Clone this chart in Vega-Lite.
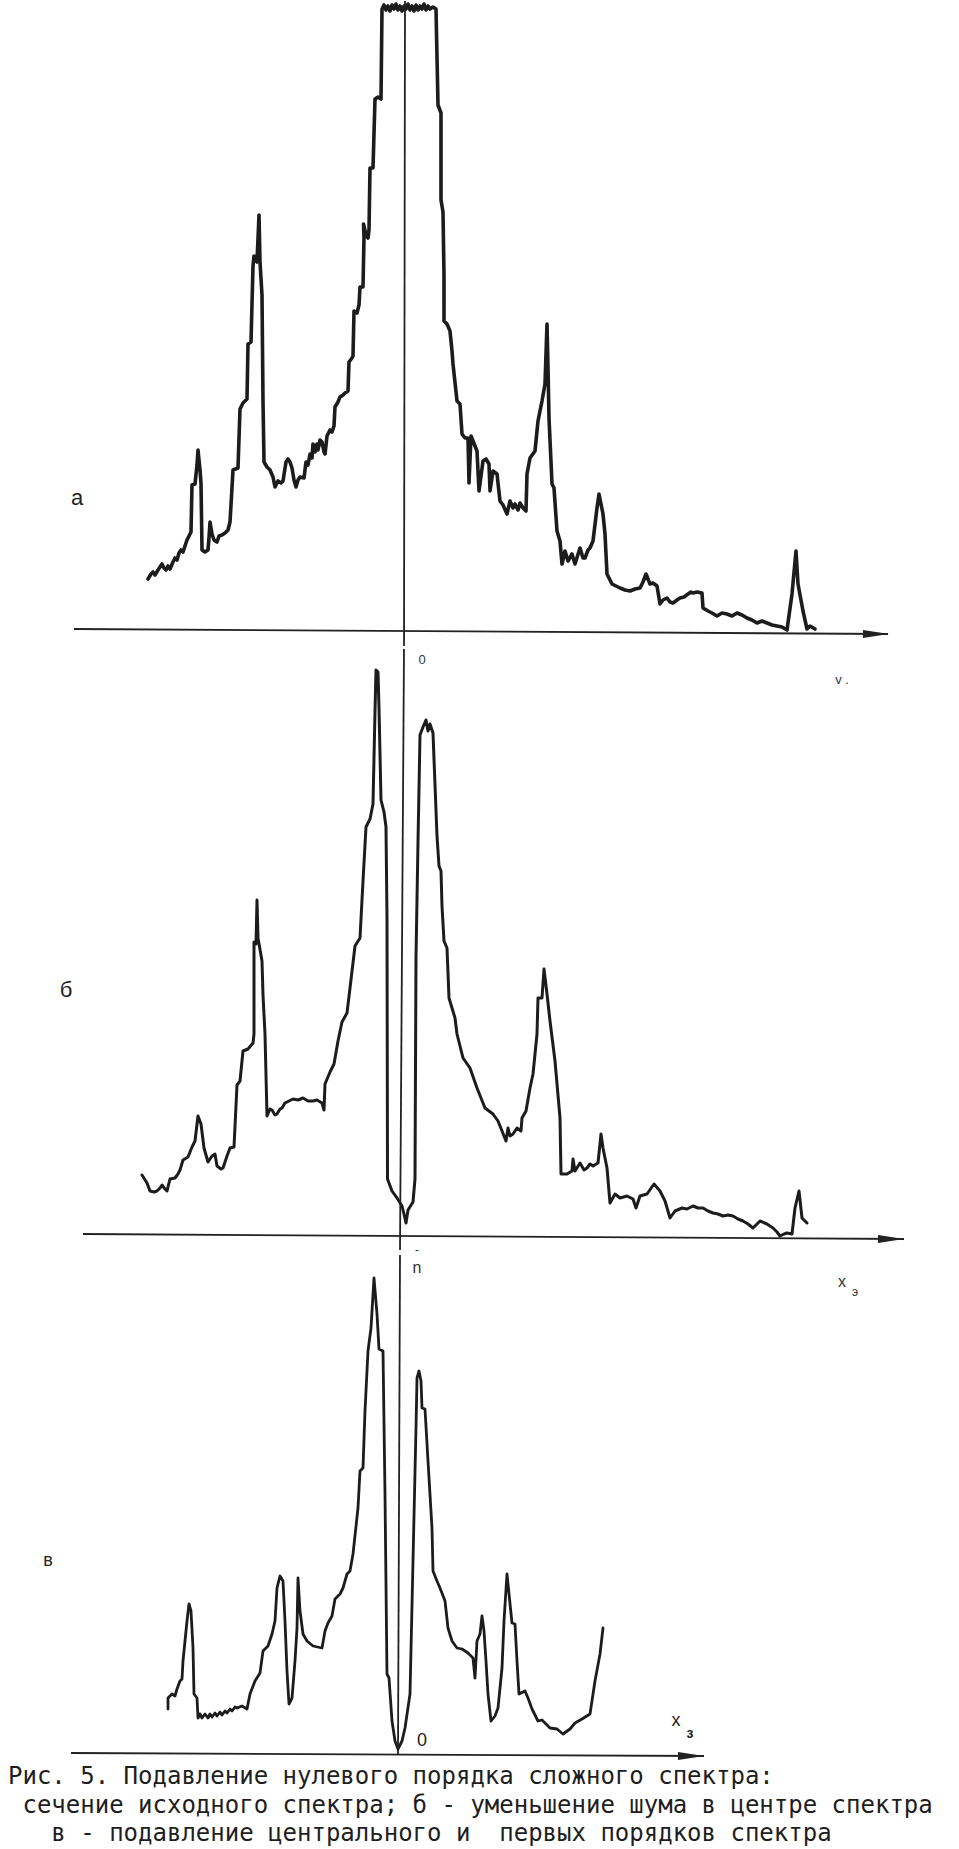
{
  "$schema": "https://vega.github.io/schema/vega-lite/v6.json",
  "background": "white",
  "padding": 0,
  "spacing": 0,
  "bounds": "flush",
  "config": {"view": {"stroke": null}},
  "title": {
    "text": ["Рис. 5. Подавление нулевого порядка сложного спектра:", "\u200b\u00a0сечение исходного спектра; б - уменьшение шума в центре спектра", "\u200b\u00a0\u00a0\u00a0в - подавление центрального и\u00a0 первых порядков спектра"],
    "orient": "bottom", "anchor": "start", "frame": "group",
    "font": "DejaVu Sans Mono", "fontSize": 24, "fontWeight": "normal", "color": "#1e1e1e",
    "lineHeight": 28.5, "offset": 4, "dx": 8
  },
  "vconcat": [
    {
      "width": 959, "height": 645,
      "encoding": {
        "x": {"field": "x", "type": "quantitative", "scale": {"domain": [-405, 554], "nice": false, "zero": false}, "axis": null},
        "y": {"field": "y", "type": "quantitative", "scale": {"domain": [-16, 629], "nice": false, "zero": false}, "axis": null}
      },
      "layer": [
        {
          "data": {"values": [
            {"x":-257,"y":51},{"x":-254,"y":56},{"x":-252,"y":58},{"x":-250,"y":55},{"x":-247,"y":60},{"x":-245,"y":63},{"x":-243,"y":66},{"x":-241,"y":62},{"x":-239,"y":60},{"x":-237,"y":64},{"x":-235,"y":61},{"x":-232,"y":68},{"x":-230,"y":72},{"x":-228,"y":70},{"x":-226,"y":77},{"x":-224,"y":80},{"x":-222,"y":78},{"x":-220,"y":84},{"x":-218,"y":90},{"x":-216,"y":94},{"x":-214,"y":98},{"x":-213,"y":145},{"x":-210,"y":146},{"x":-208,"y":165},{"x":-207,"y":180},{"x":-205,"y":160},{"x":-204,"y":147},{"x":-203,"y":80},{"x":-200,"y":78},{"x":-197,"y":80},{"x":-196,"y":92},{"x":-195,"y":108},{"x":-193,"y":96},{"x":-191,"y":90},{"x":-188,"y":88},{"x":-186,"y":94},{"x":-183,"y":95},{"x":-180,"y":97},{"x":-177,"y":100},{"x":-175,"y":108},{"x":-174,"y":125},{"x":-172,"y":160},{"x":-167,"y":162},{"x":-165,"y":221},{"x":-162,"y":227},{"x":-158,"y":231},{"x":-157,"y":286},{"x":-154,"y":288},{"x":-152,"y":364},{"x":-151,"y":374},{"x":-148,"y":368},{"x":-146,"y":415},{"x":-145,"y":368},{"x":-143,"y":335},{"x":-142,"y":229},{"x":-141,"y":168},{"x":-138,"y":163},{"x":-135,"y":160},{"x":-132,"y":153},{"x":-130,"y":143},{"x":-127,"y":149},{"x":-124,"y":147},{"x":-122,"y":149},{"x":-119,"y":168},{"x":-117,"y":171},{"x":-115,"y":168},{"x":-113,"y":162},{"x":-111,"y":150},{"x":-109,"y":143},{"x":-107,"y":150},{"x":-105,"y":153},{"x":-101,"y":152},{"x":-99,"y":168},{"x":-97,"y":165},{"x":-95,"y":176},{"x":-93,"y":172},{"x":-92,"y":186},{"x":-90,"y":178},{"x":-88,"y":186},{"x":-87,"y":180},{"x":-85,"y":190},{"x":-83,"y":188},{"x":-81,"y":178},{"x":-80,"y":176},{"x":-78,"y":194},{"x":-75,"y":200},{"x":-73,"y":198},{"x":-71,"y":204},{"x":-70,"y":223},{"x":-67,"y":228},{"x":-65,"y":233},{"x":-62,"y":235},{"x":-60,"y":237},{"x":-57,"y":239},{"x":-56,"y":268},{"x":-53,"y":272},{"x":-52,"y":274},{"x":-51,"y":319},{"x":-48,"y":317},{"x":-46,"y":325},{"x":-45,"y":343},{"x":-42,"y":343},{"x":-41,"y":392},{"x":-41.5,"y":406},{"x":-39,"y":395},{"x":-37,"y":392},{"x":-36,"y":400},{"x":-35,"y":462},{"x":-32,"y":462},{"x":-30,"y":531},{"x":-27,"y":533},{"x":-24,"y":531},{"x":-23,"y":621},{"x":-21,"y":625},{"x":-19,"y":620},{"x":-17,"y":624},{"x":-15,"y":619},{"x":-13,"y":625},{"x":-11,"y":621},{"x":-9,"y":626},{"x":-7,"y":620},{"x":-5,"y":624},{"x":-3,"y":619},{"x":-1,"y":624},{"x":1,"y":621},{"x":3,"y":626},{"x":5,"y":620},{"x":7,"y":624},{"x":9,"y":619},{"x":11,"y":625},{"x":13,"y":620},{"x":15,"y":624},{"x":17,"y":621},{"x":19,"y":626},{"x":21,"y":620},{"x":23,"y":624},{"x":25,"y":621},{"x":28,"y":623},{"x":31,"y":621},{"x":33,"y":525},{"x":36,"y":517},{"x":36,"y":430},{"x":38,"y":418},{"x":39,"y":355},{"x":39,"y":329},{"x":39,"y":309},{"x":42,"y":306},{"x":45,"y":299},{"x":47,"y":279},{"x":48,"y":266},{"x":52,"y":229},{"x":55,"y":226},{"x":57,"y":196},{"x":60,"y":192},{"x":63,"y":192},{"x":64,"y":147},{"x":66,"y":194},{"x":68,"y":189},{"x":72,"y":179},{"x":74,"y":139},{"x":78,"y":169},{"x":81,"y":171},{"x":84,"y":166},{"x":85,"y":139},{"x":88,"y":159},{"x":92,"y":156},{"x":95,"y":129},{"x":98,"y":125},{"x":102,"y":116},{"x":105,"y":129},{"x":108,"y":122},{"x":110,"y":126},{"x":113,"y":120},{"x":115,"y":127},{"x":118,"y":122},{"x":121,"y":119},{"x":122,"y":156},{"x":125,"y":172},{"x":130,"y":179},{"x":133,"y":209},{"x":137,"y":229},{"x":140,"y":246},{"x":142,"y":306},{"x":143,"y":262},{"x":144,"y":212},{"x":147,"y":146},{"x":149,"y":142},{"x":152,"y":99},{"x":155,"y":89},{"x":157,"y":66},{"x":160,"y":79},{"x":163,"y":69},{"x":167,"y":76},{"x":170,"y":66},{"x":175,"y":82},{"x":178,"y":72},{"x":180,"y":72},{"x":183,"y":80},{"x":185,"y":82},{"x":188,"y":89},{"x":192,"y":122},{"x":194,"y":136},{"x":198,"y":116},{"x":200,"y":96},{"x":202,"y":56},{"x":207,"y":46},{"x":211,"y":44},{"x":215,"y":42},{"x":220,"y":40},{"x":225,"y":39},{"x":230,"y":41},{"x":235,"y":42},{"x":238,"y":48},{"x":241,"y":56},{"x":245,"y":46},{"x":248,"y":47},{"x":252,"y":44},{"x":255,"y":26},{"x":258,"y":30},{"x":262,"y":32},{"x":265,"y":28},{"x":268,"y":27},{"x":272,"y":30},{"x":275,"y":32},{"x":279,"y":33},{"x":283,"y":36},{"x":286,"y":38},{"x":288,"y":37},{"x":292,"y":38},{"x":297,"y":37},{"x":298,"y":22},{"x":303,"y":19},{"x":307,"y":17},{"x":312,"y":14},{"x":317,"y":17},{"x":322,"y":16},{"x":327,"y":14},{"x":332,"y":17},{"x":337,"y":15},{"x":342,"y":12},{"x":347,"y":10},{"x":352,"y":7},{"x":357,"y":9},{"x":362,"y":7},{"x":367,"y":5},{"x":372,"y":4},{"x":377,"y":3},{"x":382,"y":0},{"x":387,"y":36},{"x":391,"y":79},{"x":393,"y":46},{"x":398,"y":19},{"x":402,"y":1},{"x":405,"y":4},{"x":410,"y":1}
          ]},
          "mark": {"type": "line", "color": "#1c1c1c", "strokeWidth": 3.6, "strokeJoin": "round", "strokeCap": "round"},
          "encoding": {"order": {"value": null}}
        },
        {
          "data": {"values": [{"x": -331, "y": 1, "x2": 483, "y2": -4}, {"x": 0, "y": 629, "x2": -1, "y2": -16}]},
          "mark": {"type": "rule", "color": "#222", "strokeWidth": 1.8},
          "encoding": {"x2": {"field": "x2"}, "y2": {"field": "y2"}}
        },
        {
          "data": {"values": [{"x": 471, "y": -4}]},
          "mark": {"type": "point", "shape": "M -1 -0.3 L 1 0 L -1 0.3 Z", "size": 676, "filled": true, "color": "#222", "opacity": 1}
        },
        {
          "data": {"values": [{"x": -328, "y": 132, "t": "а"}]},
          "mark": {"type": "text", "font": "Liberation Sans", "fontSize": 22, "color": "#222", "align": "center", "baseline": "middle"},
          "encoding": {"text": {"field": "t"}}
        },
        {
          "data": {"values": [{"x": 17, "y": -30, "t": "0"}, {"x": 437, "y": -50, "t": "v ."}]},
          "mark": {"type": "text", "font": "Liberation Sans", "fontSize": 13, "color": "#333", "align": "center", "baseline": "middle"},
          "encoding": {"text": {"field": "t"}}
        }
      ]
    },
    {
      "width": 959, "height": 605,
      "encoding": {
        "x": {"field": "x", "type": "quantitative", "scale": {"domain": [-402, 557], "nice": false, "zero": false}, "axis": null},
        "y": {"field": "y", "type": "quantitative", "scale": {"domain": [-15, 590], "nice": false, "zero": false}, "axis": null}
      },
      "layer": [
        {
          "data": {"values": [
            {"x":-260,"y":61},{"x":-255,"y":53},{"x":-252,"y":45},{"x":-248,"y":44},{"x":-245,"y":45},{"x":-242,"y":48},{"x":-240,"y":51},{"x":-237,"y":47},{"x":-235,"y":45},{"x":-232,"y":57},{"x":-227,"y":58},{"x":-224,"y":62},{"x":-222,"y":66},{"x":-219,"y":76},{"x":-214,"y":79},{"x":-212,"y":84},{"x":-210,"y":89},{"x":-207,"y":95},{"x":-204,"y":120},{"x":-201,"y":112},{"x":-198,"y":88},{"x":-194,"y":74},{"x":-190,"y":80},{"x":-187,"y":82},{"x":-185,"y":70},{"x":-181,"y":67},{"x":-179,"y":68},{"x":-175,"y":80},{"x":-172,"y":88},{"x":-168,"y":89},{"x":-165,"y":151},{"x":-162,"y":155},{"x":-159,"y":185},{"x":-154,"y":187},{"x":-149,"y":193},{"x":-148,"y":202},{"x":-148,"y":294},{"x":-146,"y":292},{"x":-145,"y":336},{"x":-144,"y":298},{"x":-140,"y":275},{"x":-139,"y":241},{"x":-137,"y":202},{"x":-135,"y":120},{"x":-132,"y":127},{"x":-130,"y":126},{"x":-127,"y":121},{"x":-125,"y":122},{"x":-122,"y":127},{"x":-120,"y":128},{"x":-117,"y":133},{"x":-113,"y":135},{"x":-109,"y":137},{"x":-104,"y":136},{"x":-99,"y":138},{"x":-94,"y":135},{"x":-89,"y":135},{"x":-85,"y":136},{"x":-80,"y":133},{"x":-78,"y":126},{"x":-77,"y":152},{"x":-72,"y":164},{"x":-68,"y":172},{"x":-64,"y":195},{"x":-60,"y":214},{"x":-55,"y":223},{"x":-52,"y":248},{"x":-47,"y":290},{"x":-42,"y":298},{"x":-39,"y":355},{"x":-36,"y":409},{"x":-32,"y":417},{"x":-29,"y":432},{"x":-27,"y":524},{"x":-26,"y":566},{"x":-24,"y":564},{"x":-23,"y":528},{"x":-21,"y":436},{"x":-18,"y":424},{"x":-16,"y":409},{"x":-15,"y":317},{"x":-14.5,"y":57},{"x":-10,"y":45},{"x":-5,"y":38},{"x":0,"y":30},{"x":2,"y":22},{"x":4,"y":13},{"x":6,"y":26},{"x":11,"y":34},{"x":13,"y":57},{"x":14,"y":279},{"x":16,"y":394},{"x":18,"y":501},{"x":21,"y":509},{"x":24,"y":516},{"x":26,"y":505},{"x":28,"y":512},{"x":31,"y":503},{"x":35,"y":400},{"x":37,"y":370},{"x":39,"y":365},{"x":40,"y":330},{"x":42,"y":295},{"x":45,"y":288},{"x":47,"y":238},{"x":53,"y":218},{"x":55,"y":202},{"x":61,"y":178},{"x":68,"y":168},{"x":75,"y":148},{"x":83,"y":128},{"x":91,"y":122},{"x":96,"y":115},{"x":100,"y":105},{"x":104,"y":95},{"x":106,"y":108},{"x":108,"y":100},{"x":111,"y":102},{"x":115,"y":108},{"x":119,"y":105},{"x":120,"y":118},{"x":124,"y":125},{"x":128,"y":148},{"x":131,"y":162},{"x":135,"y":202},{"x":136,"y":238},{"x":140,"y":238},{"x":142,"y":267},{"x":145,"y":242},{"x":148,"y":215},{"x":153,"y":175},{"x":158,"y":118},{"x":159,"y":62},{"x":165,"y":62},{"x":170,"y":65},{"x":171,"y":77},{"x":173,"y":65},{"x":178,"y":73},{"x":182,"y":66},{"x":185,"y":68},{"x":188,"y":72},{"x":191,"y":70},{"x":196,"y":73},{"x":199,"y":102},{"x":201,"y":88},{"x":205,"y":68},{"x":208,"y":33},{"x":213,"y":42},{"x":218,"y":38},{"x":225,"y":40},{"x":231,"y":37},{"x":234,"y":28},{"x":238,"y":40},{"x":245,"y":42},{"x":252,"y":52},{"x":258,"y":45},{"x":263,"y":35},{"x":268,"y":18},{"x":273,"y":25},{"x":280,"y":28},{"x":285,"y":27},{"x":291,"y":30},{"x":296,"y":28},{"x":301,"y":28},{"x":306,"y":25},{"x":311,"y":23},{"x":316,"y":22},{"x":321,"y":20},{"x":326,"y":21},{"x":331,"y":20},{"x":336,"y":17},{"x":341,"y":15},{"x":346,"y":12},{"x":351,"y":8},{"x":355,"y":12},{"x":358,"y":15},{"x":365,"y":12},{"x":371,"y":8},{"x":375,"y":4},{"x":378,"y":0},{"x":382,"y":2},{"x":385,"y":3},{"x":390,"y":2},{"x":393,"y":28},{"x":397,"y":45},{"x":400,"y":18},{"x":405,"y":13}
          ]},
          "mark": {"type": "line", "color": "#1c1c1c", "strokeWidth": 3, "strokeJoin": "round", "strokeCap": "round"},
          "encoding": {"order": {"value": null}}
        },
        {
          "data": {"values": [{"x": -319, "y": 2, "x2": 502, "y2": -3}, {"x": 2, "y": 587, "x2": -2, "y2": -14}]},
          "mark": {"type": "rule", "color": "#222", "strokeWidth": 1.8},
          "encoding": {"x2": {"field": "x2"}, "y2": {"field": "y2"}}
        },
        {
          "data": {"values": [{"x": 489, "y": -3}]},
          "mark": {"type": "point", "shape": "M -1 -0.3 L 1 0 L -1 0.3 Z", "size": 676, "filled": true, "color": "#222", "opacity": 1}
        },
        {
          "data": {"values": [{"x": -336, "y": 246, "t": "б"}]},
          "mark": {"type": "text", "font": "Liberation Sans", "fontSize": 22, "color": "#222", "align": "center", "baseline": "middle"},
          "encoding": {"text": {"field": "t"}}
        },
        {
          "data": {"values": [{"x": 15, "y": -14, "t": "-"}, {"x": 453, "y": -56, "t": "э"}]},
          "mark": {"type": "text", "font": "Liberation Sans", "fontSize": 12, "color": "#333", "align": "center", "baseline": "middle"},
          "encoding": {"text": {"field": "t"}}
        },
        {
          "data": {"values": [{"x": 15, "y": -32, "t": "n"}, {"x": 440, "y": -46, "t": "x"}]},
          "mark": {"type": "text", "font": "Liberation Sans", "fontSize": 16, "color": "#333", "align": "center", "baseline": "middle"},
          "encoding": {"text": {"field": "t"}}
        }
      ]
    },
    {
      "width": 959, "height": 510,
      "encoding": {
        "x": {"field": "x", "type": "quantitative", "scale": {"domain": [-398, 561], "nice": false, "zero": false}, "axis": null},
        "y": {"field": "y", "type": "quantitative", "scale": {"domain": [-8, 502], "nice": false, "zero": false}, "axis": null}
      },
      "layer": [
        {
          "data": {"values": [
            {"x":-230,"y":44},{"x":-230,"y":55},{"x":-226,"y":59},{"x":-223,"y":57},{"x":-221,"y":64},{"x":-218,"y":72},{"x":-216,"y":74},{"x":-215,"y":92},{"x":-211,"y":132},{"x":-209,"y":149},{"x":-207,"y":142},{"x":-205,"y":105},{"x":-204,"y":59},{"x":-201,"y":55},{"x":-200,"y":35},{"x":-198,"y":39},{"x":-196,"y":35},{"x":-193,"y":39},{"x":-190,"y":35},{"x":-188,"y":39},{"x":-186,"y":36},{"x":-183,"y":40},{"x":-181,"y":37},{"x":-178,"y":41},{"x":-176,"y":38},{"x":-173,"y":42},{"x":-171,"y":40},{"x":-168,"y":44},{"x":-166,"y":42},{"x":-163,"y":46},{"x":-161,"y":45},{"x":-156,"y":47},{"x":-151,"y":44},{"x":-148,"y":59},{"x":-143,"y":72},{"x":-138,"y":80},{"x":-135,"y":102},{"x":-130,"y":107},{"x":-126,"y":119},{"x":-123,"y":132},{"x":-121,"y":165},{"x":-118,"y":177},{"x":-115,"y":172},{"x":-113,"y":132},{"x":-111,"y":82},{"x":-109,"y":49},{"x":-106,"y":55},{"x":-103,"y":92},{"x":-101,"y":125},{"x":-100,"y":175},{"x":-98,"y":142},{"x":-95,"y":119},{"x":-91,"y":112},{"x":-85,"y":107},{"x":-76,"y":105},{"x":-73,"y":122},{"x":-70,"y":130},{"x":-66,"y":137},{"x":-63,"y":154},{"x":-58,"y":159},{"x":-55,"y":165},{"x":-51,"y":179},{"x":-48,"y":182},{"x":-45,"y":199},{"x":-40,"y":245},{"x":-38,"y":282},{"x":-35,"y":285},{"x":-33,"y":342},{"x":-30,"y":402},{"x":-27,"y":425},{"x":-24,"y":475},{"x":-21,"y":439},{"x":-19,"y":404},{"x":-15,"y":402},{"x":-13,"y":259},{"x":-11,"y":79},{"x":-9,"y":75},{"x":-6,"y":32},{"x":-3,"y":12},{"x":0,"y":4},{"x":4,"y":12},{"x":7,"y":25},{"x":12,"y":59},{"x":15,"y":192},{"x":18,"y":325},{"x":19,"y":375},{"x":21,"y":382},{"x":23,"y":372},{"x":24,"y":345},{"x":27,"y":344},{"x":30,"y":292},{"x":34,"y":225},{"x":35,"y":182},{"x":39,"y":172},{"x":42,"y":165},{"x":47,"y":152},{"x":50,"y":125},{"x":54,"y":112},{"x":59,"y":105},{"x":64,"y":104},{"x":70,"y":100},{"x":75,"y":95},{"x":77,"y":75},{"x":79,"y":112},{"x":82,"y":119},{"x":84,"y":137},{"x":86,"y":122},{"x":88,"y":92},{"x":90,"y":59},{"x":93,"y":32},{"x":97,"y":37},{"x":100,"y":45},{"x":104,"y":85},{"x":106,"y":132},{"x":109,"y":179},{"x":111,"y":159},{"x":114,"y":130},{"x":117,"y":129},{"x":119,"y":92},{"x":121,"y":59},{"x":127,"y":62},{"x":130,"y":55},{"x":134,"y":44},{"x":140,"y":32},{"x":144,"y":33},{"x":147,"y":30},{"x":152,"y":25},{"x":159,"y":24},{"x":165,"y":19},{"x":172,"y":24},{"x":177,"y":30},{"x":184,"y":34},{"x":192,"y":39},{"x":197,"y":72},{"x":202,"y":99},{"x":205,"y":125}
          ]},
          "mark": {"type": "line", "color": "#1c1c1c", "strokeWidth": 2.8, "strokeJoin": "round", "strokeCap": "round"},
          "encoding": {"order": {"value": null}}
        },
        {
          "data": {"values": [{"x": -327, "y": 0, "x2": 306, "y2": -3}, {"x": 2, "y": 498, "x2": 0, "y2": -2}]},
          "mark": {"type": "rule", "color": "#222", "strokeWidth": 1.8},
          "encoding": {"x2": {"field": "x2"}, "y2": {"field": "y2"}}
        },
        {
          "data": {"values": [{"x": 293, "y": -3}]},
          "mark": {"type": "point", "shape": "M -1 -0.3 L 1 0 L -1 0.3 Z", "size": 676, "filled": true, "color": "#222", "opacity": 1}
        },
        {
          "data": {"values": [{"x": -350, "y": 192, "t": "в"}, {"x": 24, "y": 12, "t": "0"}, {"x": 278, "y": 32, "t": "x"}]},
          "mark": {"type": "text", "font": "Liberation Sans", "fontSize": 18, "color": "#222", "align": "center", "baseline": "middle"},
          "encoding": {"text": {"field": "t"}}
        },
        {
          "data": {"values": [{"x": 292, "y": 19, "t": "з"}]},
          "mark": {"type": "text", "font": "Liberation Sans", "fontSize": 14, "fontWeight": "bold", "color": "#222", "align": "center", "baseline": "middle"},
          "encoding": {"text": {"field": "t"}}
        }
      ]
    }
  ]
}
